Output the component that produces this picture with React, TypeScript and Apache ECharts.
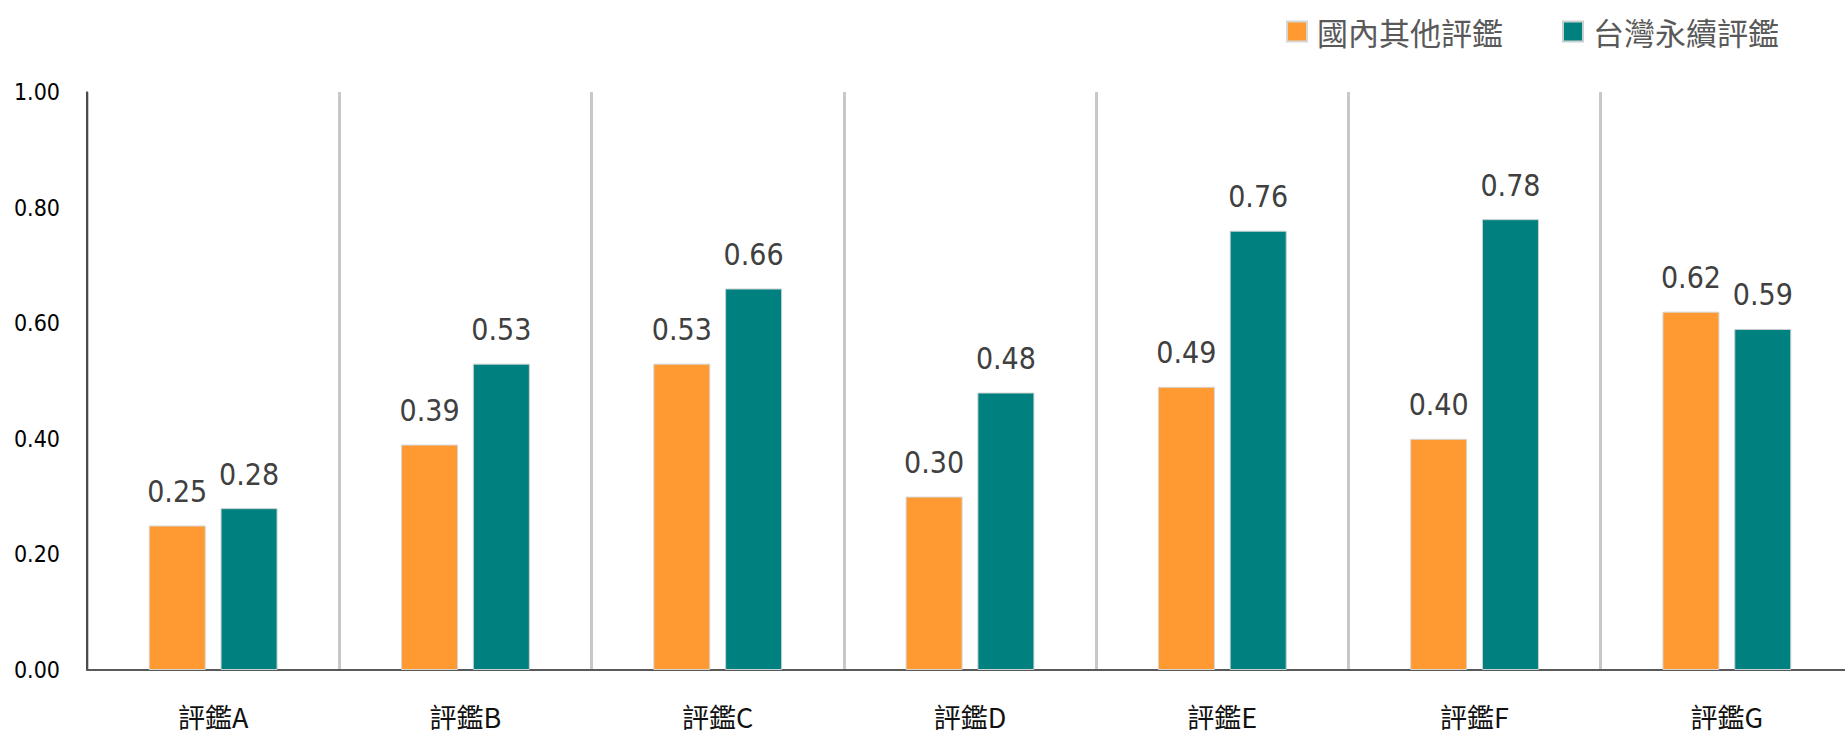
import React, { useEffect, useRef } from "react";
import * as echarts from "echarts";

// Rating categories and the two series compared in each
const categories = ["評鑑A", "評鑑B", "評鑑C", "評鑑D", "評鑑E", "評鑑F", "評鑑G"];
const seriesNames = ["國內其他評鑑", "台灣永續評鑑"];
const domesticValues = [0.25, 0.39, 0.53, 0.3, 0.49, 0.4, 0.62];
const taiwanValues = [0.28, 0.53, 0.66, 0.48, 0.76, 0.78, 0.59];
const yTicks = [0, 0.2, 0.4, 0.6, 0.8, 1.0];

const NARROW = "'DejaVu Sans Condensed', 'Liberation Sans Narrow', sans-serif";
const CJK = "'Noto Sans CJK TC', 'Noto Sans', sans-serif";

const colors = ["#FF9A33", "#00807F"];

export default function App() {
  const ref = useRef<HTMLDivElement>(null);

  useEffect(() => {
    if (!ref.current) return;
    const chart = echarts.init(ref.current, undefined, { renderer: "svg" });

    const valueLabel = {
      show: true,
      position: "top" as const,
      distance: 19,
      fontFamily: NARROW,
      fontSize: 30,
      color: "#404040",
      formatter: (p: any) => Number(p.value).toFixed(2),
    };

    chart.setOption({
      animation: false,
      backgroundColor: "#ffffff",
      color: colors,
      legend: {
        data: seriesNames,
        right: 61,
        top: 11,
        icon: "rect",
        itemWidth: 20,
        itemHeight: 20,
        itemGap: 59,
        textStyle: {
          fontFamily: CJK,
          fontSize: 31,
          color: "#595959",
          padding: [0, 0, 0, 5],
        },
      },
      grid: {
        left: 87,
        top: 92,
        width: 1766,
        height: 578,
        containLabel: false,
        outerBoundsMode: "none",
      },
      xAxis: {
        type: "category",
        data: categories,
        boundaryGap: true,
        axisLine: { show: true, lineStyle: { color: "#595959", width: 2 } },
        axisTick: { show: false },
        axisLabel: {
          margin: 33,
          interval: 0,
          fontFamily: CJK,
          fontSize: 27,
          lineHeight: 27,
          color: "#111111",
        },
        splitLine: {
          show: true,
          interval: 0,
          lineStyle: { color: "#C8C8C8", width: 3 },
        },
      },
      yAxis: {
        type: "value",
        min: yTicks[0],
        max: yTicks[yTicks.length - 1],
        interval: 0.2,
        axisLine: { show: true, lineStyle: { color: "#222222", width: 1.5 } },
        axisTick: { show: false },
        splitLine: { show: false },
        axisLabel: {
          margin: 27,
          fontFamily: NARROW,
          fontSize: 23,
          color: "#000000",
          formatter: (v: number) => v.toFixed(2),
        },
      },
      series: [
        {
          name: seriesNames[0],
          type: "bar",
          data: domesticValues,
          barWidth: 57,
          barGap: "26%",
          itemStyle: { color: colors[0], borderColor: "#d6d6d6", borderWidth: 1 },
          label: valueLabel,
        },
        {
          name: seriesNames[1],
          type: "bar",
          data: taiwanValues,
          barWidth: 57,
          barGap: "26%",
          itemStyle: { color: colors[1], borderColor: "#c8d0d0", borderWidth: 1 },
          label: valueLabel,
        },
      ],
    });

    return () => chart.dispose();
  }, []);

  return (
    <div
      ref={ref}
      style={{ position: "fixed", left: 0, top: 0, width: 1845, height: 735, background: "#fff" }}
    />
  );
}
